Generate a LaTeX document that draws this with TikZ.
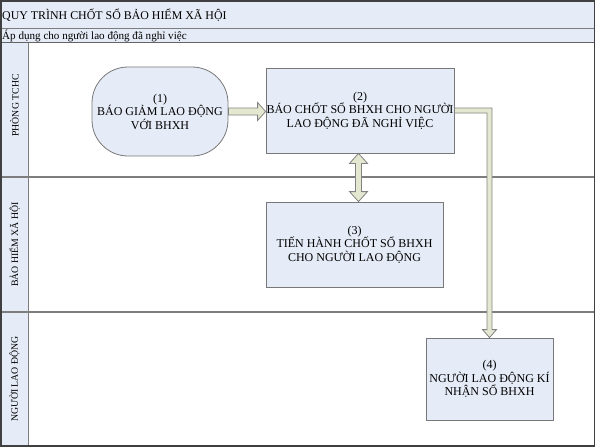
\documentclass[tikz,border=0pt]{standalone}
\usepackage{fontspec}
\setmainfont{Liberation Serif}
\usetikzlibrary{calc}
\definecolor{boxfill}{RGB}{230,236,247}
\definecolor{boxline}{RGB}{120,120,120}
\definecolor{arrfill}{RGB}{229,232,208}
\definecolor{arrline}{RGB}{130,130,130}
\definecolor{frameline}{RGB}{64,64,64}
\definecolor{laneline}{RGB}{125,125,125}
\tikzset{
  stepbox/.style={draw=boxline, fill=boxfill, line width=0.8pt, align=center, inner sep=0pt,
    font=\fontsize{12}{13.5}\selectfont},
  fatarrow/.style={draw=arrline, fill=arrfill, line width=0.8pt, line join=miter},
  lanelabel/.style={rotate=90, font=\fontsize{9.8}{11}\selectfont, inner sep=0pt},
  bandtext/.style={anchor=west, inner sep=0pt},
  sepline/.style={draw=laneline, line width=1.3pt}
}
\begin{document}
\begin{tikzpicture}[x=1pt,y=-1pt]
\useasboundingbox (0,0) rectangle (596,447);
% bands
\fill[boxfill] (0,0) rectangle (594,42);
\fill[boxfill] (0,43) rectangle (28,446);
\draw[sepline] (0,28.5) -- (594,28.5);
\draw[sepline, draw=laneline!80!black] (0,42.5) -- (594,42.5);
\draw[sepline] (28.5,43) -- (28.5,446);
\draw[sepline] (0,177) -- (594,177);
\draw[sepline] (0,312) -- (594,312);
% frame
\draw[frameline, line width=1.5pt] (0.75,0.75) rectangle (594.5,446);
% band texts
\node[bandtext, font=\fontsize{11.9}{13}\selectfont] (title) at (2,15) {QUY TRÌNH CHỐT SỔ BẢO HIỂM XÃ HỘI};
\node[bandtext, font=\fontsize{11.1}{12}\selectfont] (sub) at (2,35.5) {Áp dụng cho người lao động đã nghỉ việc};
% lane labels
\node[lanelabel] (l1) at (14.5,105.5) {PHÒNG TCHC};
\node[lanelabel] (l2) at (14.5,244.5) {BẢO HIỂM XÃ HỘI};
\node[lanelabel] (l3) at (14.5,379) {NGƯỜI LAO ĐỘNG};
% steps
\node[stepbox, rounded corners=36pt, minimum width=136pt, minimum height=89pt] (n1) at (160,111.5)
  {(1)\\BÁO GIẢM LAO ĐỘNG\\VỚI BHXH};
\node[stepbox, minimum width=188pt, minimum height=85pt] (n2) at (360,110.5)
  {(2)\\BÁO CHỐT SỔ BHXH CHO NGƯỜI\\LAO ĐỘNG ĐÃ NGHỈ VIỆC};
\node[stepbox, minimum width=177pt, minimum height=85pt] (n3) at (354.5,244.5)
  {(3)\\TIẾN HÀNH CHỐT SỔ BHXH\\CHO NGƯỜI LAO ĐỘNG};
\node[stepbox, minimum width=127pt, minimum height=82pt] (n4) at (489.5,379)
  {(4)\\NGƯỜI LAO ĐỘNG KÍ\\NHẬN SỔ BHXH};
% arrow 1 -> 2
\coordinate (a1s) at (n1.east);
\coordinate (a1e) at (n2.west |- n1.east);
\filldraw[fatarrow] ($(a1s)+(0,-3.5)$) -- ($(a1e)+(-8,-3.5)$) -- ($(a1e)+(-8,-9)$) -- (a1e)
  -- ($(a1e)+(-8,9)$) -- ($(a1e)+(-8,3.5)$) -- ($(a1s)+(0,3.5)$) -- cycle;
% double arrow 2 <-> 3
\coordinate (dT) at ($(n2.south)+(-1.5,0)$);
\coordinate (dB) at (dT |- n3.north);
\filldraw[fatarrow] (dT) -- ($(dT)+(9,10)$) -- ($(dT)+(3,10)$) -- ($(dB)+(3,-10)$) -- ($(dB)+(9,-10)$)
  -- (dB) -- ($(dB)+(-9,-10)$) -- ($(dB)+(-3,-10)$) -- ($(dT)+(-3,10)$) -- ($(dT)+(-9,10)$) -- cycle;
% elbow arrow 2 -> 4
\coordinate (eS) at (n2.east);
\coordinate (eE) at (n4.north);
\coordinate (eC) at (eE |- eS);
\filldraw[fatarrow] ($(eS)+(0,-2.5)$) -- ($(eC)+(2.5,-2.5)$) -- ($(eE)+(2.5,-8)$) -- ($(eE)+(7,-8)$)
  -- (eE) -- ($(eE)+(-7,-8)$) -- ($(eE)+(-2.5,-8)$) -- ($(eC)+(-2.5,2.5)$) -- ($(eS)+(0,2.5)$) -- cycle;
\end{tikzpicture}
\end{document}
